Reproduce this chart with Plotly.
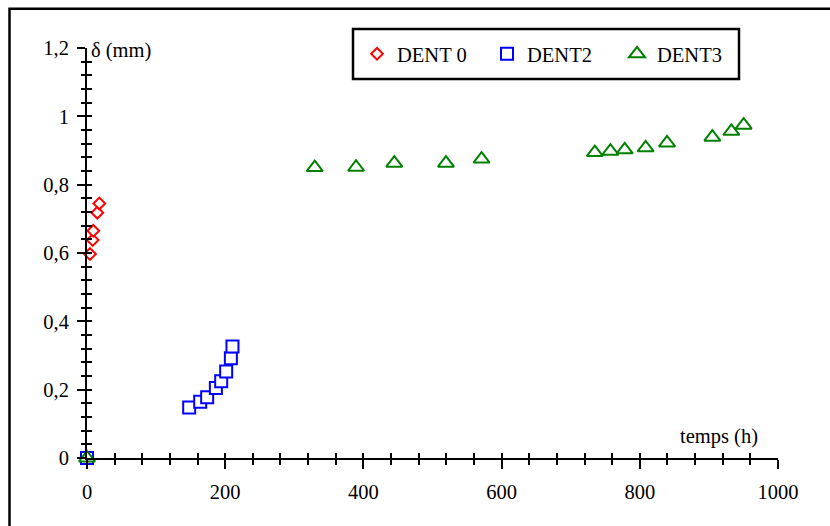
import plotly.graph_objects as go

# Déplacement δ (mm) en fonction du temps (h) pour trois dents
dent0_t = [0, 4.3, 8.2, 9.1, 14.9, 17.8]
dent0_d = [0, 0.597, 0.638, 0.665, 0.718, 0.745]

dent2_t = [0, 147.9, 163.8, 173.9, 186.5, 194.2, 201.4, 208.2, 210.5]
dent2_d = [0, 0.148, 0.165, 0.178, 0.205, 0.225, 0.253, 0.292, 0.326]

dent3_t = [0, 329.6, 389.4, 444.7, 519.5, 571.0, 734.9, 757.5, 778.2,
           808.5, 839.4, 905.0, 932.5, 950.3]
dent3_d = [0, 0.850, 0.851, 0.863, 0.863, 0.875, 0.894, 0.898, 0.902,
           0.908, 0.922, 0.939, 0.956, 0.974]

series_names = ["DENT 0", "DENT2", "DENT3"]
series_colors = ["#ff0000", "#0000ff", "#008000"]
series_symbols = ["diamond", "square", "triangle-up"]
series_sizes = [9, 12, 14]

x_range = [0, 1000]
y_range = [0, 1.2]

FONT = "Liberation Serif, Times New Roman, Times, serif"
FS = 20.5

W, H = 830, 526
ML, MR, MT, MB = 87, 52, 48, 68
PW = W - ML - MR
PH = H - MT - MB


def px_to_paper_x(px):
    return (px - ML) / PW


def px_to_paper_y(py):
    return (H - MB - py) / PH


fig = go.Figure()

for name, xs, ys, col, sym, sz in zip(
        series_names, [dent0_t, dent2_t, dent3_t], [dent0_d, dent2_d, dent3_d],
        series_colors, series_symbols, series_sizes):
    fig.add_trace(go.Scatter(
        x=xs, y=ys, mode="markers", name=name, cliponaxis=False,
        marker=dict(symbol=sym, size=sz, color="white",
                    line=dict(color=col, width=2)),
    ))

# empty trace carrying the overlay axes used for the inner half of the ticks
fig.add_trace(go.Scatter(x=[], y=[], xaxis="x2", yaxis="y2",
                         showlegend=False, hoverinfo="skip"))

tick_font = dict(family=FONT, size=FS, color="black")

fig.update_layout(
    width=W, height=H,
    margin=dict(l=ML, r=MR, t=MT, b=MB, pad=0),
    paper_bgcolor="white", plot_bgcolor="white",
    separators=", ",
    font=dict(family=FONT, size=FS, color="black"),
    xaxis=dict(range=x_range, dtick=200, tick0=0, showgrid=False,
               zeroline=False, showline=True, linecolor="black", linewidth=2,
               ticks="outside", ticklen=9, tickwidth=2, tickcolor="black",
               minor=dict(dtick=40, ticks="outside", ticklen=5, tickwidth=2,
                          tickcolor="black", showgrid=False),
               tickfont=tick_font, ticklabelstandoff=5, fixedrange=True),
    yaxis=dict(range=y_range, dtick=0.2, tick0=0, showgrid=False,
               zeroline=False, showline=True, linecolor="black", linewidth=2,
               ticks="outside", ticklen=8, tickwidth=2, tickcolor="black",
               minor=dict(dtick=0.04, ticks="outside", ticklen=4, tickwidth=2,
                          tickcolor="black", showgrid=False),
               tickfont=tick_font, ticklabelstandoff=4, fixedrange=True),
    xaxis2=dict(range=x_range, overlaying="x", anchor="y", side="bottom",
                dtick=200, tick0=0, showgrid=False, zeroline=False,
                showline=False, showticklabels=False,
                ticks="inside", ticklen=5, tickwidth=2, tickcolor="black",
                minor=dict(dtick=40, ticks="inside", ticklen=5, tickwidth=2,
                           tickcolor="black", showgrid=False)),
    yaxis2=dict(range=y_range, overlaying="y", anchor="x", side="left",
                dtick=0.2, tick0=0, showgrid=False, zeroline=False,
                showline=False, showticklabels=False,
                ticks="inside", ticklen=5, tickwidth=2, tickcolor="black",
                minor=dict(dtick=0.04, ticks="inside", ticklen=5, tickwidth=2,
                           tickcolor="black", showgrid=False)),
    legend=dict(orientation="h", x=px_to_paper_x(552), y=px_to_paper_y(54),
                xanchor="center", yanchor="middle", bgcolor="rgba(0,0,0,0)",
                borderwidth=0, font=dict(family=FONT, size=FS, color="black"),
                itemwidth=30, entrywidth=85, itemclick=False,
                itemdoubleclick=False),
    showlegend=True,
)

# axis titles
fig.add_annotation(text="δ (mm)", xref="paper", yref="y", x=0, y=1.2,
                   xanchor="left", yanchor="middle", showarrow=False,
                   xshift=2, yshift=-2,
                   font=dict(family=FONT, size=FS, color="black"))
fig.add_annotation(text="temps (h)", xref="x", yref="y", x=915, y=0.063,
                   xanchor="center", yanchor="middle", showarrow=False,
                   font=dict(family=FONT, size=FS, color="black"))

# legend frame
fig.add_shape(type="rect", xref="paper", yref="paper",
              x0=px_to_paper_x(353), x1=px_to_paper_x(739),
              y0=px_to_paper_y(79), y1=px_to_paper_y(29),
              line=dict(color="black", width=2.5), fillcolor="rgba(0,0,0,0)",
              layer="above")

# outer chart frame
fig.add_shape(type="rect", xref="paper", yref="paper",
              x0=px_to_paper_x(9.5), x1=px_to_paper_x(850),
              y0=px_to_paper_y(560), y1=px_to_paper_y(8.7),
              line=dict(color="black", width=2.5), fillcolor="rgba(0,0,0,0)",
              layer="below")

fig.write_html("out.html", config=dict(displayModeBar=False))
